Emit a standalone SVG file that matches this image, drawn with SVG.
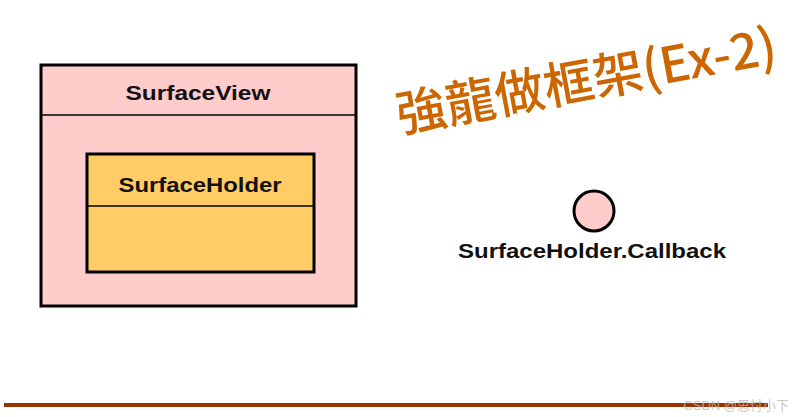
<svg xmlns="http://www.w3.org/2000/svg" width="795" height="417" viewBox="0 0 795 417">
<style>
.lbl{font-family:"Liberation Sans","DejaVu Sans",sans-serif;font-weight:bold;font-size:21px;fill:#111;text-anchor:middle}
.box{stroke:#000;stroke-width:3}
.div{stroke:#000;stroke-width:1.5}
</style>
<rect width="795" height="417" fill="#fff"/>
<g id="SurfaceView">
<rect class="box" x="41" y="65" width="315" height="241" fill="#ffcccc"/>
<line class="div" x1="41" y1="115" x2="356" y2="115"/>
<text class="lbl" x="198" y="100" textLength="145" lengthAdjust="spacingAndGlyphs">SurfaceView</text>
</g>
<g id="SurfaceHolder">
<rect class="box" x="87" y="154" width="227" height="118" fill="#ffcc66"/>
<line class="div" x1="87" y1="206" x2="314" y2="206"/>
<text class="lbl" x="200" y="192" textLength="163" lengthAdjust="spacingAndGlyphs">SurfaceHolder</text>
</g>
<g id="Callback">
<circle cx="594" cy="211" r="20" fill="#ffcccc" stroke="#000" stroke-width="3"/>
<text class="lbl" x="592" y="258" textLength="268" lengthAdjust="spacingAndGlyphs">SurfaceHolder.Callback</text>
</g>
<g id="connectors"></g>
<text x="400" y="133" transform="rotate(-10.5 400 133)" font-family="'Noto Sans CJK TC','Noto Sans',sans-serif" font-size="50" font-weight="500" fill="#cc6600">強龍做框架(Ex-2)</text>
<rect x="4" y="403" width="764" height="4" fill="#993300"/>
<text x="789" y="410" text-anchor="end" font-family="'Liberation Sans','Noto Sans CJK SC',sans-serif" font-size="13" fill="#bbb" opacity="0.8">CSDN @思忖小下</text>
</svg>
